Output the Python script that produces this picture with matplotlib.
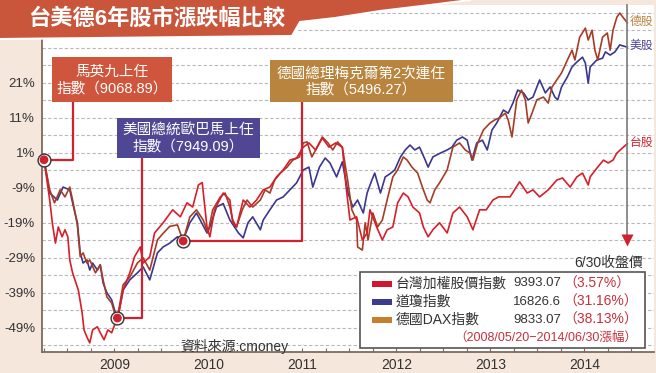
import matplotlib
matplotlib.use("Agg")
import matplotlib.pyplot as plt
from matplotlib.patches import Rectangle, Polygon
import numpy as np

plt.rcParams['font.family'] = ['Liberation Sans', 'Noto Sans CJK TC', 'DejaVu Sans']

# ---------------- data (% change since 2008/05/20) -------------
title = "台美德6年股市漲跌幅比較"

tw_t = [2008.38, 2008.44, 2008.47, 2008.50, 2008.53, 2008.57, 2008.60, 2008.63, 2008.65, 2008.68,
        2008.74, 2008.78, 2008.80, 2008.83, 2008.86, 2008.89, 2008.94, 2008.97, 2009.01, 2009.05,
        2009.09, 2009.12, 2009.15, 2009.21, 2009.28, 2009.33, 2009.39, 2009.42, 2009.49, 2009.54,
        2009.63, 2009.73, 2009.81, 2009.88, 2009.94, 2010.00, 2010.04, 2010.09, 2010.12, 2010.17,
        2010.26, 2010.33, 2010.36, 2010.40, 2010.47, 2010.54, 2010.61, 2010.68, 2010.75, 2010.82,
        2010.89, 2010.96, 2011.03, 2011.10, 2011.16, 2011.23, 2011.30, 2011.37, 2011.44, 2011.51,
        2011.55, 2011.59, 2011.66, 2011.72, 2011.77, 2011.80, 2011.87, 2011.93, 2011.98, 2012.04,
        2012.09, 2012.15, 2012.20, 2012.25, 2012.32, 2012.36, 2012.41, 2012.46, 2012.53, 2012.61,
        2012.67, 2012.74, 2012.82, 2012.88, 2012.95, 2013.02, 2013.09, 2013.15, 2013.27, 2013.37,
        2013.45, 2013.51, 2013.58, 2013.67, 2013.76, 2013.82, 2013.90, 2013.97, 2014.03, 2014.09,
        2014.11, 2014.18, 2014.25, 2014.30, 2014.35, 2014.39, 2014.45, 2014.50]
tw_v = [-1.0, -12.5, -19.6, -24.8, -20.2, -23.0, -21.0, -23.0, -29.6, -33.3,
        -38.2, -44.7, -49.6, -51.6, -53.3, -49.6, -48.7, -50.4, -52.4, -49.6,
        -50.4, -48.2, -47.0, -38.2, -33.3, -28.7, -25.9, -30.5, -28.7, -21.9,
        -19.0, -15.3, -17.3, -13.3, -14.5, -8.2, -7.5, -20.2, -23.0, -15.3,
        -10.5, -12.5, -19.0, -20.2, -12.5, -14.5, -12.5, -9.6, -8.8, -5.9,
        -3.9, -1.1, -0.5, 2.6, 3.8, 1.8, 5.2, 2.6, 3.8, 2.6,
        -8.8, -18.2, -17.3, -23.9, -21.9, -15.3, -20.2, -23.9, -21.0, -20.2,
        -13.3, -10.5, -11.6, -14.5, -16.2, -20.2, -23.0, -21.0, -19.0, -21.9,
        -16.2, -14.5, -17.3, -21.0, -15.3, -15.3, -12.5, -11.6, -11.6, -7.3,
        -10.5, -9.6, -11.6, -9.6, -6.8, -6.2, -8.8, -5.9, -4.8, -8.2,
        -5.9, -3.4, -1.1, -1.9, -1.1, 0.9, 2.4, 3.57]

us_t = [2008.38, 2008.44, 2008.52, 2008.58, 2008.65, 2008.68, 2008.73, 2008.76, 2008.79, 2008.83,
        2008.86, 2008.89, 2008.94, 2008.97, 2009.00, 2009.04, 2009.09, 2009.12, 2009.15, 2009.21,
        2009.28, 2009.36, 2009.42, 2009.49, 2009.57, 2009.63, 2009.70, 2009.78, 2009.84, 2009.91,
        2009.98, 2010.09, 2010.12, 2010.19, 2010.26, 2010.33, 2010.42, 2010.47, 2010.52, 2010.57,
        2010.65, 2010.68, 2010.75, 2010.82, 2010.89, 2010.96, 2011.03, 2011.10, 2011.16, 2011.20,
        2011.27, 2011.33, 2011.38, 2011.45, 2011.51, 2011.57, 2011.62, 2011.67, 2011.73, 2011.77,
        2011.82, 2011.85, 2011.91, 2011.96, 2012.01, 2012.06, 2012.12, 2012.17, 2012.22, 2012.27,
        2012.32, 2012.38, 2012.41, 2012.46, 2012.53, 2012.61, 2012.66, 2012.71, 2012.77, 2012.82,
        2012.87, 2012.92, 2012.98, 2013.03, 2013.08, 2013.13, 2013.20, 2013.25, 2013.30, 2013.35,
        2013.41, 2013.46, 2013.51, 2013.58, 2013.64, 2013.69, 2013.74, 2013.77, 2013.81, 2013.87,
        2013.92, 2013.97, 2014.03, 2014.06, 2014.09, 2014.11, 2014.18, 2014.24, 2014.27, 2014.32,
        2014.37, 2014.42, 2014.50]
us_v = [-1.0, -10.5, -12.5, -8.8, -9.6, -13.3, -19.0, -27.6, -30.5, -29.6,
        -32.5, -30.5, -32.5, -31.0, -36.2, -39.0, -41.0, -43.9, -46.7, -38.2,
        -35.3, -33.3, -31.6, -35.3, -27.6, -25.9, -24.8, -23.0, -23.9, -19.0,
        -16.2, -21.9, -20.2, -14.5, -13.5, -18.2, -21.9, -23.3, -19.0, -17.3,
        -21.0, -18.2, -15.3, -12.5, -11.6, -9.6, -7.6, -3.9, -3.1, -8.8,
        -3.1, -0.5, -1.9, -5.9, -1.6, -10.5, -14.5, -12.5, -16.2, -10.5,
        -6.8, -4.8, -10.5, -5.9, -5.0, -3.9, -0.2, 1.8, 3.2, 1.8,
        2.6, -1.1, -3.1, -0.2, 0.8, 1.8, 2.6, 4.6, 5.5, 4.6,
        -1.1, 3.8, 4.6, 1.8, 7.5, 9.5, 13.2, 12.3, 15.2, 18.9,
        18.1, 16.1, 16.9, 21.8, 18.1, 19.8, 16.9, 16.1, 19.8, 22.6,
        25.5, 26.9, 28.3, 26.6, 20.9, 25.5, 27.5, 28.0, 29.8, 28.9,
        29.8, 31.8, 31.16]

dax_t = [2008.38, 2008.44, 2008.49, 2008.55, 2008.60, 2008.65, 2008.68, 2008.73, 2008.76, 2008.79,
         2008.83, 2008.86, 2008.92, 2008.97, 2009.00, 2009.04, 2009.09, 2009.12, 2009.15, 2009.21,
         2009.28, 2009.36, 2009.42, 2009.49, 2009.57, 2009.63, 2009.70, 2009.78, 2009.84, 2009.91,
         2009.98, 2010.05, 2010.10, 2010.15, 2010.23, 2010.28, 2010.33, 2010.36, 2010.40, 2010.46,
         2010.51, 2010.57, 2010.65, 2010.70, 2010.75, 2010.80, 2010.86, 2010.93, 2010.99, 2011.06,
         2011.10, 2011.14, 2011.19, 2011.23, 2011.30, 2011.36, 2011.41, 2011.46, 2011.51, 2011.57,
         2011.61, 2011.66, 2011.67, 2011.72, 2011.75, 2011.78, 2011.83, 2011.88, 2011.93, 2011.98,
         2012.04, 2012.09, 2012.15, 2012.19, 2012.24, 2012.30, 2012.35, 2012.40, 2012.43, 2012.48,
         2012.53, 2012.61, 2012.67, 2012.74, 2012.80, 2012.85, 2012.88, 2012.93, 2012.99, 2013.06,
         2013.11, 2013.16, 2013.22, 2013.25, 2013.29, 2013.34, 2013.39, 2013.43, 2013.46, 2013.50,
         2013.55, 2013.62, 2013.67, 2013.71, 2013.76, 2013.81, 2013.88, 2013.92, 2013.95, 2014.00,
         2014.06, 2014.09, 2014.13, 2014.16, 2014.19, 2014.24, 2014.29, 2014.32, 2014.35, 2014.39,
         2014.42, 2014.46, 2014.50]
dax_v = [-1.0, -9.6, -13.3, -9.6, -11.6, -8.8, -12.5, -19.6, -28.7, -27.6,
         -30.5, -29.6, -33.3, -31.0, -35.3, -40.2, -41.9, -44.7, -46.2, -36.7,
         -34.5, -30.5, -29.0, -32.5, -23.9, -22.0, -20.0, -19.6, -24.2, -17.3,
         -15.3, -18.2, -21.9, -15.3, -11.6, -10.5, -14.5, -18.2, -20.2, -15.3,
         -12.5, -14.5, -12.5, -9.6, -10.5, -6.8, -4.8, -3.1, -1.1, -0.2,
         3.8, 4.1, -0.2, 1.8, 5.5, 3.8, 1.8, 4.1, 2.6, -7.6,
         -15.3, -18.2, -25.9, -26.8, -19.0, -23.9, -16.2, -20.2, -18.2, -12.5,
         -5.9, -3.9, -0.2, -1.1, -3.1, -4.8, -8.8, -12.5, -13.3, -9.6,
         -7.6, -3.9, 2.6, 3.8, 1.8, 0.9, -1.1, 3.8, 7.5, 9.5,
         10.4, 11.0, 12.3, 10.4, 5.5, 16.1, 18.9, 16.1, 9.5, 12.3,
         16.1, 16.9, 15.2, 19.8, 21.8, 23.8, 28.0, 30.3, 27.5, 34.0,
         36.6, 33.2, 36.0, 30.3, 27.5, 34.0, 35.2, 30.3, 36.0, 39.7,
         40.9, 39.5, 38.13]

series_names = ["台灣加權股價指數", "道瓊指數", "德國DAX指數"]
close_values = ["9393.07", "16826.6", "9833.07"]
pct_changes = ["3.57%", "31.16%", "38.13%"]
end_labels = ["台股", "美股", "德股"]
period_note = "（2008/05/20−2014/06/30漲幅）"
close_note = "6/30收盤價"
source_note = "資料來源:cmoney"

event_labels = ["馬英九上任\n指數（9068.89）",
                "美國總統歐巴馬上任\n指數（7949.09）",
                "德國總理梅克爾第2次連任\n指數（5496.27）"]
event_t = [2008.38, 2009.15, 2009.84]
event_v = [-1.0, -46.2, -24.2]

y_ticks = [21, 11, 1, -9, -19, -29, -39, -49]
year_labels = ["2009", "2010", "2011", "2012", "2013", "2014"]

# ---------------- style ----------------
C_TW, C_US, C_DAX = '#d71f2b', '#3a3790', '#a53d26'
LEG_COLORS = ['#d0172e', '#3d3a8f', '#c77f2e']
BOX_COLORS = ['#cf563c', '#4f4794', '#b9843d']
END_COLORS = ['#d0222e', '#4f4794', '#b9843d']
RED = '#d0222e'
TXT = '#333333'

W, H = 656, 373
fig = plt.figure(figsize=(W / 100, H / 100), dpi=100)
fig.patch.set_facecolor('#f6e7dd')

ax = fig.add_axes([42 / W, (H - 352) / H, (654 - 42) / W, (352 - 5) / H])
ax.set_facecolor('white')
ax.set_xlim(2008.359, 2014.78)
ax.set_ylim(-55.9, 43.2)

for v in np.arange(-54, 45, 5):
    ax.axhline(v, color='#b8b8b8', lw=0.8, ls=(0, (3, 2)), zorder=1)

ax.plot(us_t, us_v, color=C_US, lw=1.2, zorder=3)
ax.plot(dax_t, dax_v, color=C_DAX, lw=1.2, zorder=3)
ax.plot(tw_t, tw_v, color=C_TW, lw=1.2, zorder=4)

ax.set_yticks(y_ticks)
ax.set_yticklabels([f"{v}%" for v in y_ticks], fontsize=9.5, color=TXT)
ax.tick_params(axis='y', length=0, pad=5)

tick_start, tick_step = 2008.38, 0.2465
xt = [tick_start + k * tick_step for k in range(26)]
xl = [''] * len(xt)
for i, lab in zip([3, 7, 11, 15, 19, 23], year_labels):
    xl[i] = lab
ax.set_xticks(xt)
ax.set_xticklabels(xl, fontsize=10, color=TXT)
ax.tick_params(axis='x', direction='in', length=3, width=0.8, color='#7d6a5f', pad=4)

for s in ['top', 'right']:
    ax.spines[s].set_visible(False)
for s in ['left', 'bottom']:
    ax.spines[s].set_color('#7d6a5f')
    ax.spines[s].set_linewidth(1.3)


def d2p(t, v):
    x, y = ax.transData.transform((t, v))
    return x, H - y


def p2d(x, y):
    return ax.transData.inverted().transform((x, H - y))


# overlay in pixel coordinates
ov = fig.add_axes([0, 0, 1, 1], zorder=10)
ov.set_xlim(0, W)
ov.set_ylim(H, 0)
ov.axis('off')

# title banner
edge = [(0, 39), (292, 36), (300, 22), (335, 18), (380, 11), (430, 5), (470, 0)]
ov.add_patch(Polygon([(0, 0)] + edge[::-1][:1] + edge[::-1][1:], closed=True,
                     fc='#c9553b', ec='none'))
ov.plot([p[0] for p in edge], [p[1] for p in edge], color='white', lw=1.5)
ov.text(158, 19, title, color='white', fontsize=16, fontweight='bold',
        ha='center', va='center')

# event boxes, connectors and dots
box_rects = [(52, 57, 172, 102), (117, 118, 260, 158), (270, 60, 453, 102)]
conn_x = [73, 142, 302]
for i, (x0, y0, x1, y1) in enumerate(box_rects):
    ov.add_patch(Rectangle((x0, y0), x1 - x0, y1 - y0, fc=BOX_COLORS[i], ec='none'))
    ov.text((x0 + x1) / 2, (y0 + y1) / 2 + 1, event_labels[i], color='white',
            fontsize=10.5, ha='center', va='center', multialignment='center',
            linespacing=1.3)
    dx, dy = d2p(event_t[i], event_v[i])
    pts = [p2d(conn_x[i], y1), p2d(conn_x[i], dy), p2d(dx, dy)]
    ax.plot([p[0] for p in pts], [p[1] for p in pts], color=RED, lw=1.6,
            zorder=5, clip_on=False, solid_capstyle='butt')
ax.scatter(event_t, event_v, s=85, facecolor='white', edgecolor='#333333',
           linewidth=1.0, zorder=6, clip_on=False)
ax.scatter(event_t, event_v, s=40, facecolor=RED, edgecolor='none',
           zorder=7, clip_on=False)

# end-of-period marker line
t_end = tw_t[-1]
xe, _ = d2p(t_end, 0)
ov.plot([xe, xe], [5, 236], color='#7a7a7a', lw=1.2)
ov.plot([xe], [240], marker='v', ms=8, color=RED, mec='none')

for lab, col, vend in zip(end_labels, END_COLORS, [tw_v[-1], us_v[-1], dax_v[-1]]):
    _, ye = d2p(t_end, vend)
    ov.text(630, ye - 1, lab, color=col, fontsize=8.5, ha='left', va='center')

ov.text(643, 263, close_note, color=TXT, fontsize=10, ha='right', va='center')
ov.text(180, 346, source_note, color=TXT, fontsize=10, ha='left', va='center')

# legend box
ov.add_patch(Rectangle((360, 272), 285, 76, fc='white', ec='#555555', lw=1.2))
rows = [283.5, 302, 320]
for y, name, val, pct, col in zip(rows, series_names, close_values, pct_changes, LEG_COLORS):
    ov.add_patch(Rectangle((372, y - 3), 20, 6, fc=col, ec='none'))
    ov.text(396, y, name, color=TXT, fontsize=10, ha='left', va='center')
    ov.text(561, y, val, color=TXT, fontsize=9.5, ha='right', va='center')
    ov.text(563, y, f"（{pct}）", color='#c8303a', fontsize=10, ha='left', va='center')
ov.text(637, 338, period_note, color='#c8303a', fontsize=9, ha='right', va='center')

fig.savefig('out.png', dpi=100, facecolor=fig.get_facecolor())
